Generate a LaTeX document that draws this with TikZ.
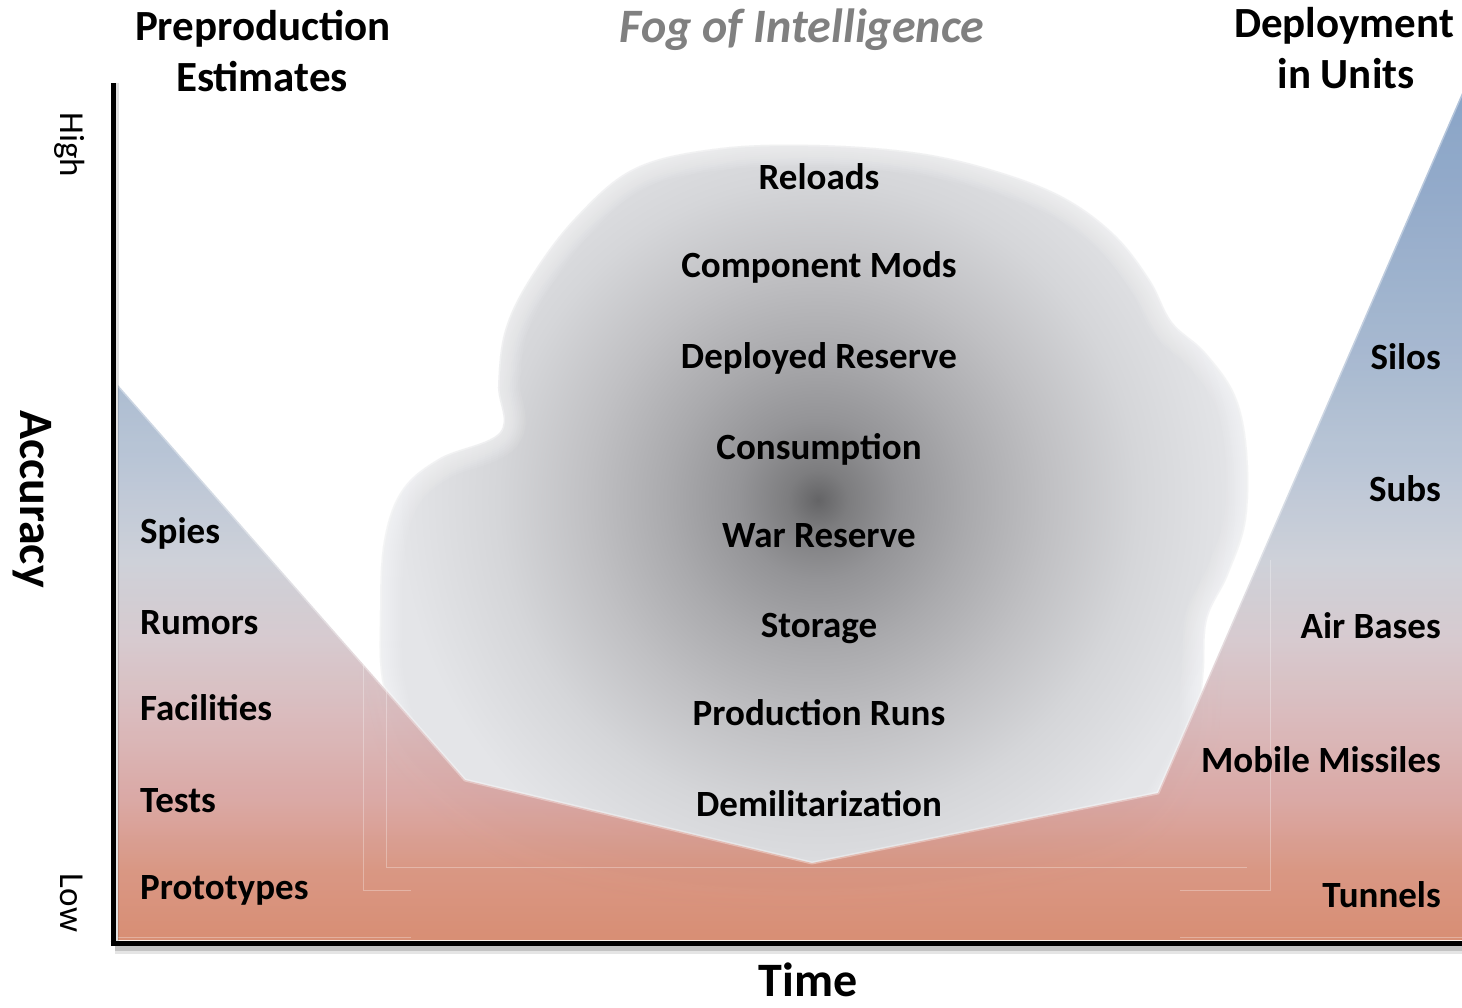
\documentclass[tikz,border=0pt]{standalone}
\usepackage{fontspec}
\setmainfont{Carlito}
\usetikzlibrary{calc}

% colours of the fog and of the accuracy band
\definecolor{fogA}{RGB}{100,100,102}
\definecolor{fogB}{RGB}{125,125,127}
\definecolor{fogC}{RGB}{148,148,151}
\definecolor{fogD}{RGB}{170,170,173}
\definecolor{fogE}{RGB}{192,192,195}
\definecolor{fogF}{RGB}{213,214,217}
\definecolor{fogG}{RGB}{228,229,232}
\definecolor{bandA}{RGB}{213,134,106}
\definecolor{bandB}{RGB}{214,143,122}
\definecolor{bandC}{RGB}{215,162,158}
\definecolor{bandD}{RGB}{215,181,183}
\definecolor{bandE}{RGB}{212,198,203}
\definecolor{bandF}{RGB}{202,205,214}
\definecolor{bandG}{RGB}{180,193,211}
\definecolor{bandH}{RGB}{160,179,204}
\definecolor{bandI}{RGB}{140,165,198}
\definecolor{bandJ}{RGB}{128,157,195}
\definecolor{titlegray}{RGB}{128,128,128}

\pgfdeclareradialshading{fogshade}{\pgfpoint{0bp}{0bp}}{%
  color(0bp)=(fogA); color(1.5bp)=(fogB); color(4bp)=(fogC);
  color(7.5bp)=(fogD); color(11.5bp)=(fogE); color(16bp)=(fogF);
  color(21bp)=(fogG); color(50bp)=(fogG)}

\pgfdeclareverticalshading{bandshade}{100bp}{%
  color(0bp)=(bandA); color(25bp)=(bandA); color(29.1bp)=(bandB);
  color(33.3bp)=(bandC); color(38bp)=(bandD); color(42.7bp)=(bandE);
  color(47.4bp)=(bandF); color(53.3bp)=(bandG); color(59.8bp)=(bandH);
  color(68.7bp)=(bandI); color(75bp)=(bandJ); color(100bp)=(bandJ)}

% outline of the fog cloud
\def\fogpath{plot[smooth cycle, tension=0.6] coordinates {
  (720,148) (820,145) (920,153) (1000,172) (1065,198) (1115,235)
  (1150,280) (1172,322) (1205,352) (1235,395) (1247,450) (1246,520)
  (1228,575) (1207,620) (1203,680) (1190,760) (1100,850) (820,890)
  (560,860) (420,770) (384,690) (380,610) (384,540) (402,490)
  (440,458) (500,432) (498,385) (505,330) (530,278) (575,218) (635,168)}}

\tikzset{
  lbl/.style={font=\fontsize{37}{42}\selectfont\bfseries, inner sep=0pt, anchor=base},
  leftlbl/.style={lbl, anchor=base west},
  rightlbl/.style={lbl, anchor=base east},
  headlbl/.style={font=\fontsize{43}{48}\selectfont\bfseries, inner sep=0pt, anchor=base},
  foglbl/.style={font=\fontsize{48}{52}\selectfont\bfseries\itshape, text=titlegray, inner sep=0pt, anchor=base},
  axislbl/.style={font=\fontsize{48}{52}\selectfont\bfseries, inner sep=0pt, anchor=base},
  ticklbl/.style={font=\fontsize{35}{40}\selectfont, inner sep=0pt, anchor=base, rotate=-90},
  axisline/.style={line width=5pt, black},
  ghostline/.style={white, line width=1pt, opacity=0.3}
}

\begin{document}
\begin{tikzpicture}[x=1pt,y=-1pt]
\useasboundingbox (0,0) rectangle (1462,1007);

% fog cloud: radial grey shading clipped to the outline
\begin{scope}
  \clip \fogpath;
  \shade[shading=fogshade] (318,0) rectangle (1318,1000);
\end{scope}
% soften the rim of the cloud
\foreach \w in {4,8,...,44}{
  \draw[white, line width=\w pt, opacity=0.07] \fogpath;
}
\draw[white, line width=3pt, opacity=0.3] \fogpath;

% accuracy band below the fog
\shade[shading=bandshade, opacity=0.93]
  (118,385) -- (465,780) -- (812,863) -- (1158,793) -- (1462,93)
  -- (1462,940) -- (118,940) -- cycle;
% light rim along the upper edge of the band
\draw[white, line width=3pt, opacity=0.35, line join=round]
  (118,385) -- (465,780) -- (812,863) -- (1158,793) -- (1462,93);

% faint guide lines inside the band
\draw[ghostline] (386,690) -- (386,867) -- (1247,867);
\draw[ghostline] (363,640) -- (363,890) -- (411,890);
\draw[ghostline] (1270,560) -- (1270,890) -- (1180,890);
\draw[ghostline] (118,937) -- (411,937);
\draw[ghostline] (1180,937) -- (1462,937);

% axes with a soft shadow
\coordinate (origin) at (113,943);
\coordinate (ytop) at (113,83);
\coordinate (xend) at (1462,943);
\draw[black, opacity=0.10, line width=12pt] ($(origin)+(2,5)$) -- ($(xend)+(0,5)$);
\draw[black, opacity=0.15, line width=7pt] ($(origin)+(2,4)$) -- ($(xend)+(0,4)$);
\draw[black, opacity=0.12, line width=6pt] ($(ytop)+(3,0)$) -- ($(origin)+(3,0)$);
\draw[axisline] (ytop) -- ($(origin)+(0,2.5)$);
\draw[axisline] ($(origin)+(-2.5,0)$) -- (xend);

% headings
\node[headlbl] (preA) at (263,40) {Preproduction};
\node[headlbl] (preB) at (262,91) {Estimates};
\node[foglbl] (fog) at (802,42) {Fog of Intelligence};
\node[headlbl] (depA) at (1344,37) {Deployment};
\node[headlbl] (depB) at (1346,88) {in Units};

% axis titles
\node[axislbl, rotate=-90] (acc) at (20,499) {Accuracy};
\node[axislbl] (time) at (808,996) {Time};
\node[ticklbl] (high) at (60,145) {High};
\node[ticklbl] (low) at (60,903) {Low};

% preproduction estimates
\node[leftlbl] (spies) at (140,543) {Spies};
\node[leftlbl] (rumors) at (140,634) {Rumors};
\node[leftlbl] (facilities) at (140,720) {Facilities};
\node[leftlbl] (tests) at (140,812) {Tests};
\node[leftlbl] (prototypes) at (140,899) {Prototypes};

% inside the fog
\node[lbl] (reloads) at (819,189) {Reloads};
\node[lbl] (mods) at (819,277) {Component Mods};
\node[lbl] (deployed) at (819,368) {Deployed Reserve};
\node[lbl] (consumption) at (819,459) {Consumption};
\node[lbl] (war) at (819,547) {War Reserve};
\node[lbl] (storage) at (819,637) {Storage};
\node[lbl] (runs) at (819,725) {Production Runs};
\node[lbl] (demil) at (819,816) {Demilitarization};

% deployment in units
\node[rightlbl] (silos) at (1441,369) {Silos};
\node[rightlbl] (subs) at (1441,501) {Subs};
\node[rightlbl] (air) at (1441,638) {Air Bases};
\node[rightlbl] (mobile) at (1441,772) {Mobile Missiles};
\node[rightlbl] (tunnels) at (1441,907) {Tunnels};
\end{tikzpicture}
\end{document}
